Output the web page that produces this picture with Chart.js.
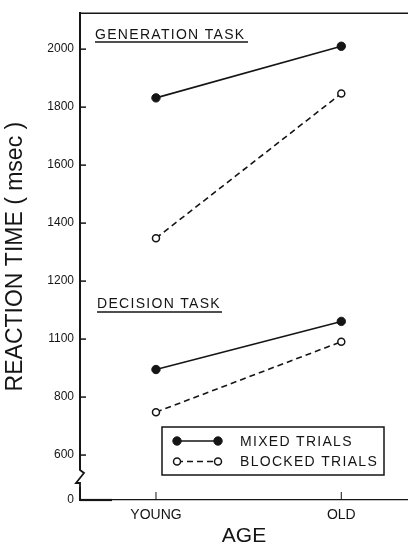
<!DOCTYPE html>
<html>
<head>
<meta charset="utf-8">
<script src="https://cdn.jsdelivr.net/npm/chart.js@4.4.1/dist/chart.umd.min.js"></script>
<style>
  html, body { margin: 0; padding: 0; background: #fff; }
  #wrap { width: 408px; height: 547px; position: relative; }
</style>
</head>
<body>
<div id="wrap"><canvas id="rtChart"></canvas></div>
<script>
// ---- data ----
const ageGroups = ['YOUNG', 'OLD'];
const genMixed = [1832, 2010];
const genBlocked = [1348, 1847];
const decMixed = [895, 1061];
const decBlocked = [748, 991];

const yTickValues = [2000, 1800, 1600, 1400, 1200, 1000, 800, 600];
const yTickLabels = ['2000', '1800', '1600', '1400', '1200', '1100', '800', '600'];
const taskLabels = ['GENERATION TASK', 'DECISION TASK'];
const legendLabels = ['MIXED TRIALS', 'BLOCKED TRIALS'];

const INK = '#151515';
const Y_MIN = 445, Y_MAX = 2124;   // broken axis: bottom of scale shown as 0

function pts(arr) {
  return arr.map((v, i) => ({ x: i, y: v }));
}

const mixedStyle = {
  borderColor: INK, backgroundColor: INK, borderWidth: 1.6,
  pointRadius: 4.2, pointBackgroundColor: INK, pointBorderColor: INK, pointBorderWidth: 1
};
const blockedStyle = {
  borderColor: INK, backgroundColor: '#fff', borderWidth: 1.6, borderDash: [6, 4],
  pointRadius: 3.5, pointBackgroundColor: '#fff', pointBorderColor: INK, pointBorderWidth: 1.5
};

// extra drawing: top frame, inward ticks, axis break, task labels, legend box
const decorPlugin = {
  id: 'decor',
  afterDraw(chart) {
    const ctx = chart.ctx;
    const { left, right, top, bottom } = chart.chartArea;
    const xs = chart.scales.x, ys = chart.scales.y;
    ctx.save();
    ctx.strokeStyle = INK;
    ctx.fillStyle = INK;

    // top frame line
    ctx.lineWidth = 1.5;
    ctx.beginPath();
    ctx.moveTo(left, top);
    ctx.lineTo(right, top);
    ctx.stroke();

    // inward y ticks
    ctx.lineWidth = 1.5;
    yTickValues.forEach(v => {
      const py = ys.getPixelForValue(v);
      ctx.beginPath();
      ctx.moveTo(left, py);
      ctx.lineTo(left + 6, py);
      ctx.stroke();
    });
    // inward x ticks
    ctx.lineWidth = 1;
    ageGroups.forEach((_, i) => {
      const px = xs.getPixelForValue(i);
      ctx.beginPath();
      ctx.moveTo(px, bottom);
      ctx.lineTo(px, bottom - 8);
      ctx.stroke();
    });
    // thick start of x axis
    ctx.lineWidth = 2.2;
    ctx.beginPath();
    ctx.moveTo(left, bottom);
    ctx.lineTo(left + 32, bottom);
    ctx.stroke();

    // axis break zigzag
    ctx.fillStyle = '#fff';
    ctx.fillRect(left - 2, 470, 5, 17);
    ctx.lineWidth = 1.8;
    ctx.beginPath();
    ctx.moveTo(left, 467);
    ctx.lineTo(left, 470);
    ctx.lineTo(left + 4, 473);
    ctx.lineTo(left - 4, 483);
    ctx.lineTo(left, 483);
    ctx.lineTo(left, 489);
    ctx.stroke();

    // task labels with underline
    ctx.fillStyle = INK;
    ctx.font = '14px "Liberation Sans", Arial, sans-serif';
    ctx.letterSpacing = '1.3px';
    ctx.textBaseline = 'alphabetic';
    ctx.textAlign = 'left';
    const tasks = [[taskLabels[0], 95, 39, 248, 42], [taskLabels[1], 97, 308, 222, 312]];
    ctx.lineWidth = 1.3;
    tasks.forEach(([t, x, y, x2, uy]) => {
      ctx.fillText(t, x, y);
      ctx.beginPath();
      ctx.moveTo(x, uy);
      ctx.lineTo(x2, uy);
      ctx.stroke();
    });

    // legend box
    ctx.lineWidth = 1.5;
    ctx.strokeRect(162, 427, 222, 48);
    const rows = [[441, chart.data.datasets[0]], [461.5, chart.data.datasets[1]]];
    rows.forEach(([ry, ds], i) => {
      ctx.save();
      ctx.lineWidth = ds.borderWidth;
      ctx.setLineDash(ds.borderDash || []);
      ctx.beginPath();
      ctx.moveTo(177, ry);
      ctx.lineTo(218, ry);
      ctx.stroke();
      ctx.setLineDash([]);
      [177, 218].forEach(cx => {
        ctx.beginPath();
        ctx.arc(cx, ry, ds.pointRadius, 0, Math.PI * 2);
        ctx.fillStyle = ds.pointBackgroundColor;
        ctx.fill();
        ctx.lineWidth = ds.pointBorderWidth;
        ctx.stroke();
      });
      ctx.restore();
      ctx.fillStyle = INK;
      ctx.textBaseline = 'middle';
      ctx.fillText(legendLabels[i], 240, ry + 1);
    });
    ctx.restore();
  }
};

const ctx = document.getElementById('rtChart').getContext('2d');
new Chart(ctx, {
  type: 'line',
  data: {
    datasets: [
      Object.assign({ label: legendLabels[0], data: pts(genMixed) }, mixedStyle),
      Object.assign({ label: legendLabels[1], data: pts(genBlocked) }, blockedStyle),
      Object.assign({ label: legendLabels[0], data: pts(decMixed) }, mixedStyle),
      Object.assign({ label: legendLabels[1], data: pts(decBlocked) }, blockedStyle)
    ]
  },
  options: {
    responsive: true,
    maintainAspectRatio: false,
    animation: false,
    layout: { autoPadding: false, padding: { top: 12, right: 0, left: 0, bottom: 0 } },
    plugins: {
      legend: { display: false },
      tooltip: { enabled: false }
    },
    scales: {
      x: {
        type: 'linear',
        min: -0.41,
        max: 1.36,
        grid: { display: false, drawTicks: false },
        border: { color: INK, width: 1.2 },
        afterBuildTicks: s => { s.ticks = ageGroups.map((_, i) => ({ value: i })); },
        afterFit: s => { s.height = 47; },
        ticks: {
          color: INK,
          padding: 7,
          font: { family: '"Liberation Sans", Arial, sans-serif', size: 14 },
          callback: v => ageGroups[v]
        },
        title: {
          display: true,
          text: 'AGE',
          color: INK,
          font: { family: '"Liberation Sans", Arial, sans-serif', size: 21 },
          padding: { top: 0, bottom: -2 }
        }
      },
      y: {
        type: 'linear',
        min: Y_MIN,
        max: Y_MAX,
        grid: { display: false, drawTicks: false },
        border: { color: INK, width: 2 },
        afterBuildTicks: s => {
          s.ticks = [{ value: Y_MIN }].concat(yTickValues.slice().reverse().map(v => ({ value: v })));
        },
        afterFit: s => { s.width = 80; },
        ticks: {
          color: INK,
          padding: 6,
          font: { family: '"Liberation Sans", Arial, sans-serif', size: 12 },
          callback: v => v === Y_MIN ? '0' : yTickLabels[yTickValues.indexOf(v)]
        },
        title: {
          display: true,
          text: 'REACTION TIME ( msec )',
          color: INK,
          font: { family: '"Liberation Sans", Arial, sans-serif', size: 23 },
          padding: { top: 2, bottom: 0 }
        }
      }
    }
  },
  plugins: [decorPlugin]
});
</script>
</body>
</html>
